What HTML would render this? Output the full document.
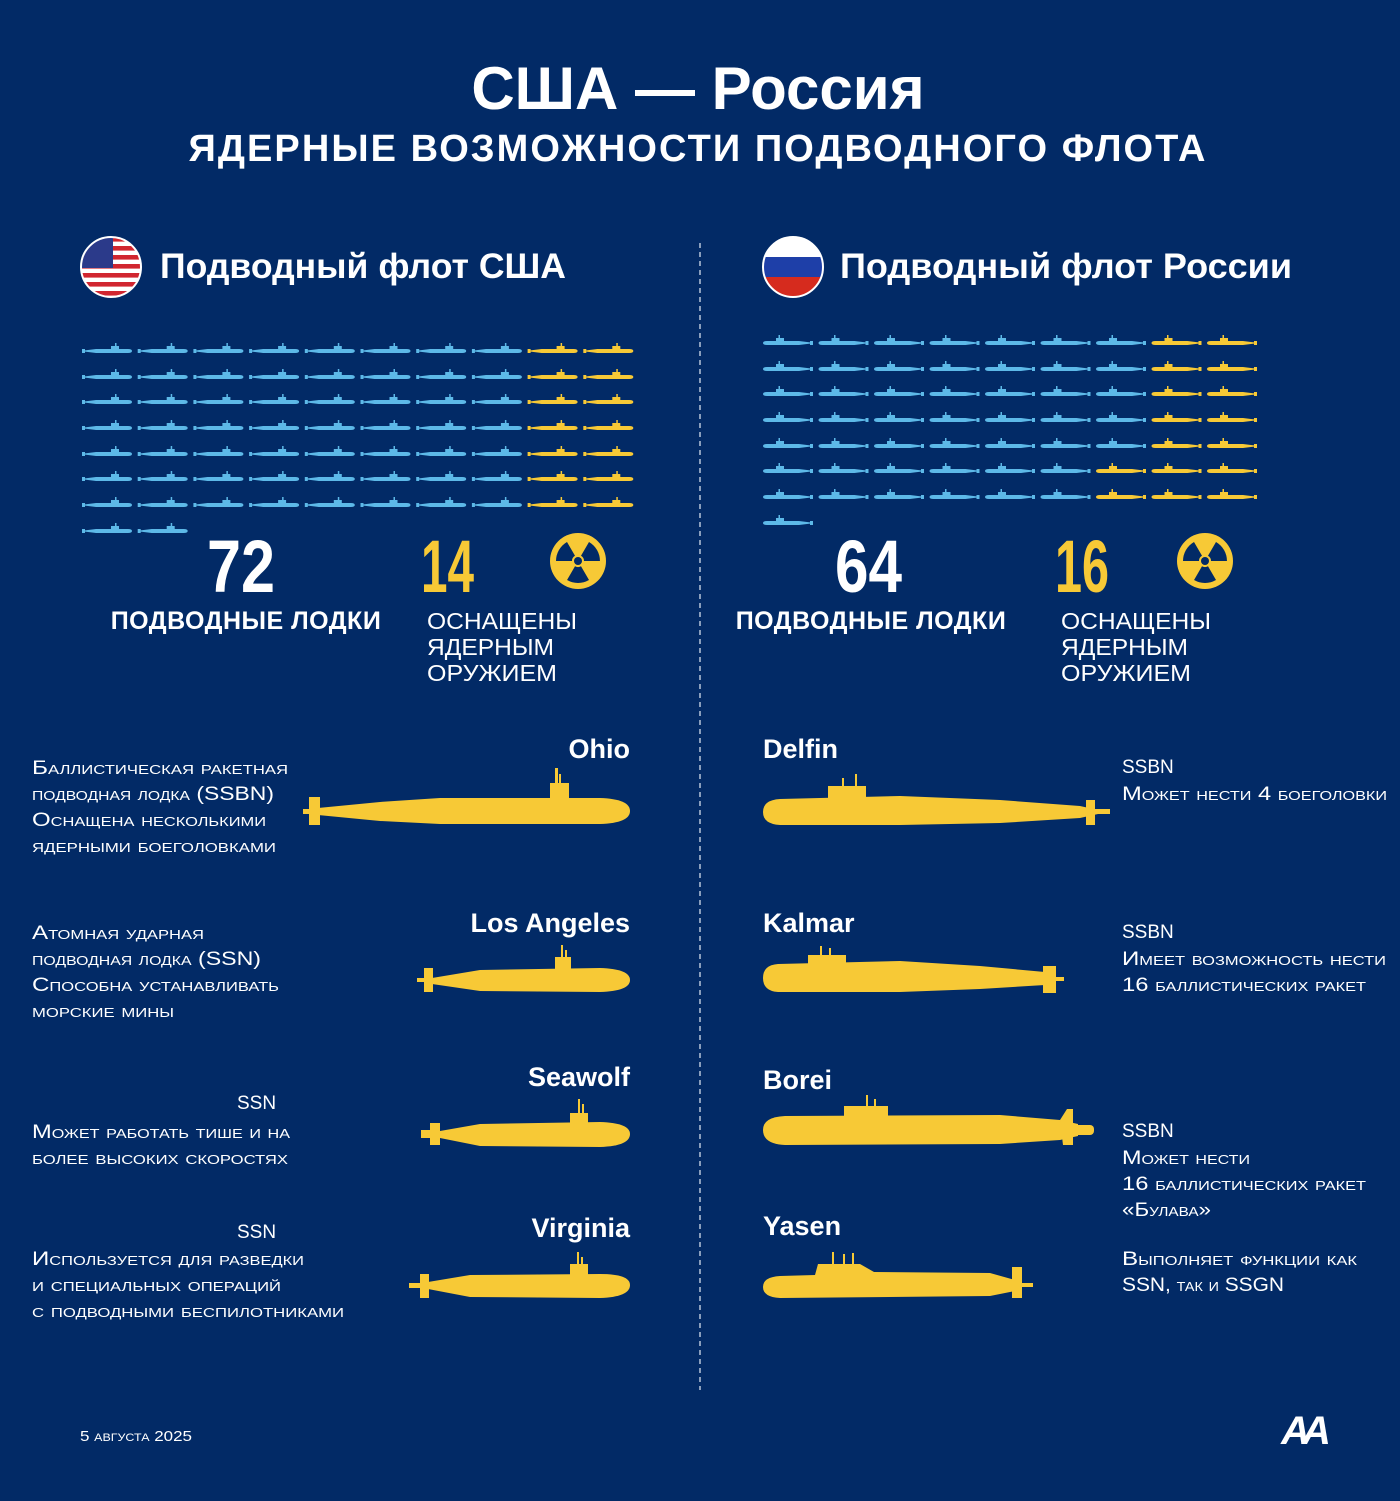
<!DOCTYPE html>
<html><head><meta charset="utf-8"><style>
body{margin:0;background:#022a66;}
svg{display:block}
text{font-family:"Liberation Sans","DejaVu Sans",sans-serif;fill:#fff}
.b{font-weight:bold}
.sc{font-variant:small-caps;font-size:19px}
</style></head><body>
<svg id="s" width="1400" height="1501" viewBox="0 0 1400 1501" xmlns="http://www.w3.org/2000/svg">
<defs>
<g id="ic">
<rect x="0" y="6" width="3" height="4"/>
<path d="M2,7.5 L14,6 L46,6 Q50,6 50,8 Q50,10 46,10 L14,10 L2,8.5Z"/>
<rect x="29" y="3" width="8" height="3.5"/><rect x="33" y="0" width="1.5" height="3.5"/>
</g>
</defs>
<rect width="1400" height="1501" fill="#022a66"/>
<text x="698" y="109" text-anchor="middle" class="b" font-size="60">США — Россия</text>
<text x="697" y="161" text-anchor="middle" class="b" font-size="38" textLength="1017" lengthAdjust="spacing">ЯДЕРНЫЕ ВОЗМОЖНОСТИ ПОДВОДНОГО ФЛОТА</text>
<line x1="700" y1="243" x2="700" y2="1390" stroke="#b8c4d8" stroke-width="1.5" stroke-dasharray="5,4"/>

<clipPath id="c1"><circle cx="111" cy="267" r="30"/></clipPath>
<g clip-path="url(#c1)">
<rect x="80" y="236" width="62" height="62" fill="#fff"/>
<g fill="#d12630"><rect x="80" y="237" width="62" height="4.6"/><rect x="80" y="246" width="62" height="4.6"/><rect x="80" y="255" width="62" height="4.6"/><rect x="80" y="264" width="62" height="4.6"/><rect x="80" y="273" width="62" height="4.6"/><rect x="80" y="282" width="62" height="4.6"/><rect x="80" y="291" width="62" height="4.6"/></g>
<rect x="80" y="236" width="33" height="32" fill="#2b3a8a"/>
</g>
<circle cx="111" cy="267" r="30" fill="none" stroke="#fff" stroke-width="2"/>
<text x="160" y="278" class="b" font-size="35" textLength="406" lengthAdjust="spacingAndGlyphs">Подводный флот США</text>

<clipPath id="c2"><circle cx="793" cy="267" r="30"/></clipPath>
<g clip-path="url(#c2)">
<rect x="762" y="236" width="62" height="21" fill="#fff"/>
<rect x="762" y="257" width="62" height="20" fill="#1e3fa8"/>
<rect x="762" y="277" width="62" height="21" fill="#d62b1e"/>
</g>
<circle cx="793" cy="267" r="30" fill="none" stroke="#fff" stroke-width="2"/>
<text x="840" y="278" class="b" font-size="35" textLength="452" lengthAdjust="spacingAndGlyphs">Подводный флот России</text>

<g id="grid"></g>

<text x="207" y="592" class="b" font-size="74" textLength="68" lengthAdjust="spacingAndGlyphs">72</text>
<text x="421" y="592" class="b" font-size="74" textLength="53" lengthAdjust="spacingAndGlyphs" style="fill:#f7c936">14</text>
<text x="246" y="629" text-anchor="middle" class="b" font-size="25" letter-spacing="0.5">ПОДВОДНЫЕ ЛОДКИ</text>
<text x="427" y="629" font-size="23" textLength="150" lengthAdjust="spacingAndGlyphs">ОСНАЩЕНЫ</text>
<text x="427" y="655" font-size="23" textLength="127" lengthAdjust="spacingAndGlyphs">ЯДЕРНЫМ</text>
<text x="427" y="681" font-size="23" textLength="130" lengthAdjust="spacingAndGlyphs">ОРУЖИЕМ</text>

<text x="835" y="592" class="b" font-size="74" textLength="67" lengthAdjust="spacingAndGlyphs">64</text>
<text x="1055" y="592" class="b" font-size="74" textLength="54" lengthAdjust="spacingAndGlyphs" style="fill:#f7c936">16</text>
<text x="871" y="629" text-anchor="middle" class="b" font-size="25" letter-spacing="0.5">ПОДВОДНЫЕ ЛОДКИ</text>
<text x="1061" y="629" font-size="23" textLength="150" lengthAdjust="spacingAndGlyphs">ОСНАЩЕНЫ</text>
<text x="1061" y="655" font-size="23" textLength="127" lengthAdjust="spacingAndGlyphs">ЯДЕРНЫМ</text>
<text x="1061" y="681" font-size="23" textLength="130" lengthAdjust="spacingAndGlyphs">ОРУЖИЕМ</text>

<g id="rad" transform="translate(578 561)">
<circle r="28" fill="#f7c936"/>
<g fill="#022a66">
<circle r="4"/>
<path d="M6,0 L22,0 A22,22 0 0 1 11,19 L3,5.2 A6,6 0 0 0 6,0Z" transform="rotate(-60)"/>
<path d="M6,0 L22,0 A22,22 0 0 1 11,19 L3,5.2 A6,6 0 0 0 6,0Z" transform="rotate(60)"/>
<path d="M6,0 L22,0 A22,22 0 0 1 11,19 L3,5.2 A6,6 0 0 0 6,0Z" transform="rotate(180)"/>
</g></g>
<use href="#rad" transform="translate(627 0)"/>

<g fill="#f7c936">
<path d="M318,808 L380,802 L440,798 L600,798 Q630,799 630,811 Q630,823 600,824 L440,824 L380,821 L318,815Z"/>
<rect x="309" y="797" width="11" height="28"/><rect x="303" y="809" width="8" height="5"/>
<rect x="550" y="783" width="19" height="17"/><rect x="555" y="768" width="3" height="16"/><rect x="559" y="774" width="2" height="10"/>
<path d="M432,978 L480,970 L600,968 Q630,969 630,980 Q630,991 600,992 L480,991 L432,984Z"/>
<rect x="424" y="968" width="9" height="24"/><rect x="417" y="978" width="8" height="4"/>
<rect x="555" y="957" width="16" height="13"/><rect x="561" y="945" width="2" height="13"/><rect x="565" y="950" width="2" height="8"/>
<path d="M440,1131 L480,1124 L600,1122 Q630,1123 630,1134 Q630,1146 600,1147 L480,1146 L440,1138Z"/>
<rect x="430" y="1123" width="10" height="22"/><rect x="421" y="1130" width="10" height="8"/>
<rect x="570" y="1113" width="18" height="11"/><rect x="578" y="1099" width="2" height="15"/><rect x="582" y="1104" width="2" height="10"/>
<path d="M428,1282 L470,1275 L600,1274 Q630,1274 630,1285 Q630,1297 600,1298 L470,1297 L428,1289Z"/>
<rect x="420" y="1274" width="9" height="24"/><rect x="409" y="1283" width="12" height="5"/>
<rect x="570" y="1264" width="18" height="12"/><rect x="577" y="1252" width="2" height="13"/><rect x="581" y="1257" width="2" height="8"/>
</g>
<text x="630" y="758" text-anchor="end" class="b" font-size="27">Ohio</text>
<text x="630" y="932" text-anchor="end" class="b" font-size="27">Los Angeles</text>
<text x="630" y="1086" text-anchor="end" class="b" font-size="27">Seawolf</text>
<text x="630" y="1237" text-anchor="end" class="b" font-size="27">Virginia</text>

<g>
<text x="32" y="774" class="sc" textLength="256" lengthAdjust="spacingAndGlyphs">Баллистическая ракетная</text>
<text x="32" y="800" class="sc" textLength="242" lengthAdjust="spacingAndGlyphs">подводная лодка (SSBN)</text>
<text x="32" y="826" class="sc" textLength="234" lengthAdjust="spacingAndGlyphs">Оснащена несколькими</text>
<text x="32" y="852" class="sc" textLength="244" lengthAdjust="spacingAndGlyphs">ядерными боеголовками</text>
<text x="32" y="939" class="sc" textLength="172" lengthAdjust="spacingAndGlyphs">Атомная ударная</text>
<text x="32" y="965" class="sc" textLength="229" lengthAdjust="spacingAndGlyphs">подводная лодка (SSN)</text>
<text x="32" y="991" class="sc" textLength="247" lengthAdjust="spacingAndGlyphs">Способна устанавливать</text>
<text x="32" y="1017" class="sc" textLength="142" lengthAdjust="spacingAndGlyphs">морские мины</text>
<text x="237" y="1109" class="sc">SSN</text>
<text x="32" y="1138" class="sc" textLength="258" lengthAdjust="spacingAndGlyphs">Может работать тише и на</text>
<text x="32" y="1164" class="sc" textLength="256" lengthAdjust="spacingAndGlyphs">более высоких скоростях</text>
<text x="237" y="1238" class="sc">SSN</text>
<text x="32" y="1265" class="sc" textLength="272" lengthAdjust="spacingAndGlyphs">Используется для разведки</text>
<text x="32" y="1291" class="sc" textLength="249" lengthAdjust="spacingAndGlyphs">и специальных операций</text>
<text x="32" y="1317" class="sc" textLength="312" lengthAdjust="spacingAndGlyphs">с подводными беспилотниками</text>

<text x="1122" y="773" class="sc">SSBN</text>
<text x="1122" y="800" class="sc" textLength="265" lengthAdjust="spacingAndGlyphs">Может нести 4 боеголовки</text>
<text x="1122" y="938" class="sc">SSBN</text>
<text x="1122" y="965" class="sc" textLength="264" lengthAdjust="spacingAndGlyphs">Имеет возможность нести</text>
<text x="1122" y="991" class="sc" textLength="244" lengthAdjust="spacingAndGlyphs">16 баллистических ракет</text>
<text x="1122" y="1137" class="sc">SSBN</text>
<text x="1122" y="1164" class="sc" textLength="128" lengthAdjust="spacingAndGlyphs">Может нести</text>
<text x="1122" y="1190" class="sc" textLength="244" lengthAdjust="spacingAndGlyphs">16 баллистических ракет</text>
<text x="1122" y="1216" class="sc" textLength="89" lengthAdjust="spacingAndGlyphs">«Булава»</text>
<text x="1122" y="1265" class="sc" textLength="235" lengthAdjust="spacingAndGlyphs">Выполняет функции как</text>
<text x="1122" y="1291" class="sc" textLength="162" lengthAdjust="spacingAndGlyphs">SSN, так и SSGN</text>
</g>

<g fill="#f7c936">
<path d="M780,799 L900,796 L1000,800 L1080,806 L1098,810 L1098,814 L1080,818 L1000,823 L900,825 L780,825 Q763,824 763,812 Q763,800 780,799Z"/>
<rect x="828" y="786" width="38" height="12"/><rect x="855" y="774" width="2" height="13"/><rect x="842" y="778" width="2" height="9"/>
<rect x="1086" y="800" width="9" height="25"/><rect x="1095" y="809" width="15" height="5"/>
<path d="M778,964 L900,961 L980,966 L1045,972 L1045,985 L980,989 L900,992 L778,992 Q763,991 763,978 Q763,965 778,964Z"/>
<rect x="808" y="955" width="38" height="10"/><rect x="820" y="946" width="2" height="10"/><rect x="829" y="948" width="2" height="8"/>
<rect x="1043" y="966" width="13" height="27"/><rect x="1055" y="977" width="9" height="4"/>
<path d="M785,1116 L1000,1115 L1060,1120 L1078,1124 L1078,1136 L1060,1140 L1000,1144 L785,1145 Q763,1144 763,1130 Q763,1117 785,1116Z"/>
<rect x="844" y="1106" width="44" height="11"/><rect x="866" y="1095" width="2" height="12"/><rect x="874" y="1099" width="2" height="8"/>
<path d="M1060,1120 L1067,1109 L1073,1109 L1073,1145 L1063,1145Z"/><rect x="1073" y="1125" width="21" height="10" rx="4"/>
<path d="M780,1276 L815,1275 L818,1264 L860,1264 L874,1272 L990,1273 L1015,1280 L1015,1291 L990,1296 L780,1298 Q763,1297 763,1287 Q763,1277 780,1276Z"/>
<rect x="832" y="1252" width="2" height="12"/><rect x="843" y="1254" width="2" height="10"/><rect x="852" y="1253" width="2" height="11"/>
<rect x="1012" y="1267" width="10" height="31"/><rect x="1020" y="1283" width="13" height="4"/>
</g>
<text x="763" y="758" class="b" font-size="27">Delfin</text>
<text x="763" y="932" class="b" font-size="27">Kalmar</text>
<text x="763" y="1089" class="b" font-size="27">Borei</text>
<text x="763" y="1235" class="b" font-size="27">Yasen</text>

<text x="80" y="1441" font-size="15" style="font-variant:small-caps" textLength="112" lengthAdjust="spacingAndGlyphs">5 августа 2025</text>
<text x="1302" y="1444" text-anchor="middle" class="b" font-size="40" font-style="italic" letter-spacing="-8">AA</text>
</svg>
<script>
var g=document.getElementById('grid'),h='';
var us=[351,377,402,428,454,479,505,531];
for(var r=0;r<8;r++){for(var c=0;c<10;c++){if(r==7&&c>1)break;
 var x=82+c*55.7,col=(c>=8&&r<7)?'#f7c936':'#5db9e8';
 h+='<use href="#ic" fill="'+col+'" transform="translate('+x+' '+(us[r]-8)+')"/>';}}
var ru=[343,369,394,420,446,471,497,523];
for(var r=0;r<8;r++){for(var c=0;c<9;c++){if(r==7&&c>0)break;
 var x=764+c*55.5,y=(c>=7&&r<7)||(c==6&&(r==5||r==6));
 var col=y?'#f7c936':'#5db9e8';
 h+='<use href="#ic" fill="'+col+'" transform="translate('+(x+49)+' '+(ru[r]-8)+') scale(-1 1)"/>';}}
g.innerHTML=h;
</script>
</body></html>
